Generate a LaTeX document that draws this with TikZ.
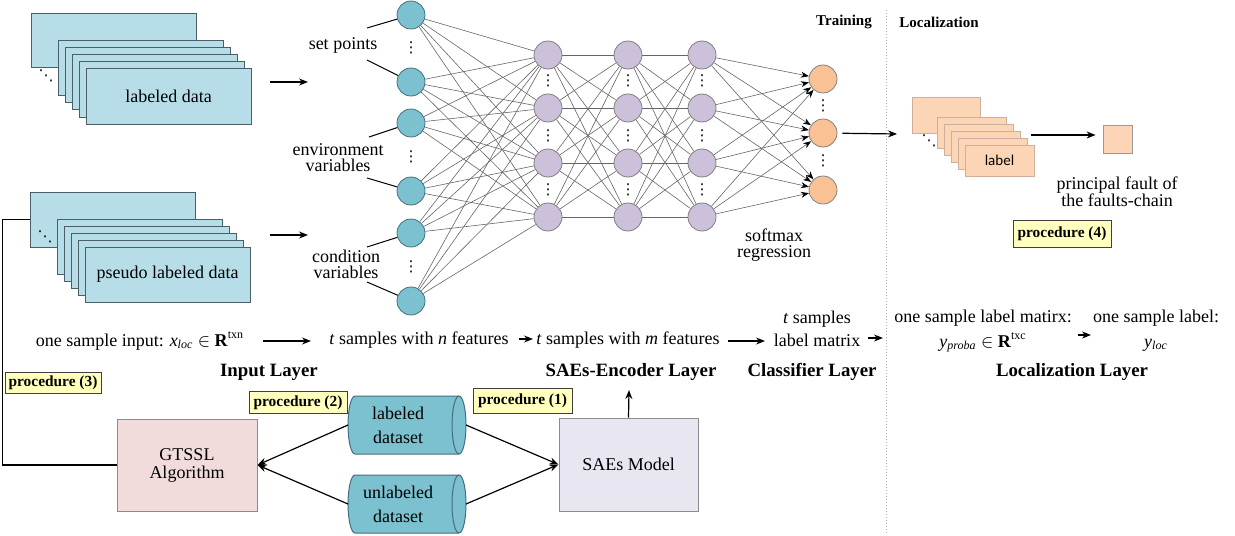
\documentclass[tikz,border=0pt]{standalone}
\usepackage{fontspec}
\setmainfont{Liberation Serif}
\newfontfamily\lblfont{Carlito}
\newfontfamily\dotfont{DejaVu Sans}
\usetikzlibrary{arrows.meta,backgrounds}
\definecolor{tealc}{RGB}{123,193,208}
\definecolor{tealdk}{RGB}{70,110,125}
\definecolor{stackc}{RGB}{183,222,232}
\definecolor{stackdk}{RGB}{75,95,105}
\definecolor{lav}{RGB}{204,192,218}
\definecolor{orng}{RGB}{249,193,148}
\definecolor{peach}{RGB}{251,213,181}
\definecolor{peachdk}{RGB}{205,175,155}
\definecolor{pinkc}{RGB}{242,220,219}
\definecolor{saec}{RGB}{232,230,241}
\definecolor{procy}{RGB}{255,255,190}
\begin{document}
\begin{tikzpicture}[x=0.5pt,y=-0.5pt,
  tx/.style={inner sep=0pt,align=center,font=\fontsize{9}{10}\selectfont},
  tight/.style={inner sep=0pt,align=center,font=\fontsize{9}{8}\selectfont},
  hdr/.style={inner sep=0pt,font=\fontsize{7.5}{9}\selectfont\bfseries},
  layer/.style={inner sep=0pt,font=\fontsize{9.4}{10}\selectfont\bfseries},
  proc/.style={draw=black!75,fill=procy,line width=0.5pt,inner sep=0pt,font=\fontsize{7.7}{9}\selectfont\bfseries},
  inn/.style={circle,draw=tealdk,fill=tealc,minimum size=14pt,inner sep=0pt,line width=0.4pt},
  hid/.style={circle,draw=black!50,fill=lav,minimum size=14pt,inner sep=0pt,line width=0.4pt},
  outn/.style={circle,draw=black!50,fill=orng,minimum size=14pt,inner sep=0pt,line width=0.4pt},
  dotsn/.style={inner sep=0pt,font=\dotfont\fontsize{7.5}{7.5}\selectfont},
  nn/.style={draw=black!60,line width=0.3pt},
  nnarr/.style={nn,-{Stealth[length=4pt,width=3pt,color=black]}},
  arr/.style={draw=black,line width=0.6pt,-{Stealth[length=4.5pt,width=3.5pt]}},
  conn/.style={draw=black,line width=0.6pt},
  lline/.style={draw=black,line width=0.5pt},
  sbox/.style={draw=stackdk,fill=stackc,line width=0.5pt},
  pbox/.style={draw=peachdk,fill=peach,line width=0.4pt},
  boxn/.style={draw=black!45,line width=0.5pt,inner sep=0pt,align=center,font=\fontsize{9}{9}\selectfont},
  cylnode/.style={inner sep=0pt,outer sep=0pt,minimum width=59pt,minimum height=29pt},
  cyltext/.style={inner sep=0pt,align=center,font=\fontsize{9}{12}\selectfont,xshift=-4.5pt},
  cylfill/.style={fill=tealc,draw=tealdk,line width=0.5pt},
  cylline/.style={draw=tealdk,line width=0.5pt},
  sepline/.style={draw=black!30,line width=0.4pt,dash pattern=on 0.5pt off 1pt}
]
\useasboundingbox (0,0) rectangle (1235,535);

% ---------- labeled data stack ----------
\node[sbox,minimum width=82.5pt,minimum height=27pt,inner sep=0pt] (ldb) at (113.5,41) {};
\foreach \k in {0,...,3}{\draw[sbox] (58+7*\k,41+7*\k) rectangle ++(165,55);}
\node[sbox,minimum width=82.5pt,minimum height=27.5pt,inner sep=0pt,font=\fontsize{9}{10}\selectfont] (ld) at (168.5,96.5) {labeled data};
\node[dotsn] (ldd) at (46,76) {⋱};

% ---------- pseudo labeled data stack ----------
\node[sbox,minimum width=82.5pt,minimum height=27.5pt,inner sep=0pt] (pdb) at (112.5,219.5) {};
\foreach \k in {0,...,3}{\draw[sbox] (57+7*\k,219+7*\k) rectangle ++(165,55);}
\node[sbox,minimum width=82.5pt,minimum height=27.5pt,inner sep=0pt,font=\fontsize{9}{10}\selectfont] (pd) at (167.5,274.5) {pseudo labeled data};
\node[dotsn] (pdd) at (45,237) {⋱};

\coordinate (ldA) at (270,82); \coordinate (ldB) at (308,82);
\draw[arr] (ldA) -- (ldB);
\coordinate (pdA) at (270,235); \coordinate (pdB) at (308,235);
\draw[arr] (pdA) -- (pdB);

% ---------- network ----------
\foreach \n/\yy in {1/15,2/82,3/123,4/191,5/233,6/301}{\node[inn] (i\n) at (411,\yy) {};}
\foreach \n/\yy in {1/55,2/108,3/163,4/217}{
  \node[hid] (a\n) at (548,\yy) {};
  \node[hid] (b\n) at (628,\yy) {};
  \node[hid] (c\n) at (702,\yy) {};}
\foreach \n/\yy in {1/79,2/133,3/190}{\node[outn] (o\n) at (823,\yy) {};}

\foreach \p in {1,...,6}{\foreach \q in {1,...,4}{\draw[nn] (i\p) -- (a\q);}}
\foreach \p in {1,...,4}{\foreach \q in {1,...,4}{\draw[nn] (a\p) -- (b\q); \draw[nn] (b\p) -- (c\q);}}
\foreach \p in {1,...,4}{\foreach \q in {1,2,3}{\draw[nnarr] (c\p) -- (o\q);}}

\foreach \n/\yy in {1/48,2/157,3/267}{\node[dotsn] (di\n) at (411,\yy) {⋮};}
\foreach \n/\yy in {1/81,2/136,3/190}{
  \node[dotsn] (da\n) at (548,\yy) {⋮};
  \node[dotsn] (db\n) at (628,\yy) {⋮};
  \node[dotsn] (dc\n) at (702,\yy) {⋮};}
\foreach \n/\yy in {1/106,2/161}{\node[dotsn] (do\n) at (823,\yy) {⋮};}

% input labels
\node[tight] (sp) at (343,45) {set points};
\node[tight] (env) at (338,158) {environment\\variables};
\node[tight] (cnd) at (346,264) {condition\\variables};
\coordinate (s1) at (367,28); \coordinate (s2) at (367,60);
\coordinate (e1) at (369,137); \coordinate (e2) at (367,178);
\coordinate (k1) at (367,247); \coordinate (k2) at (367,282);
\draw[lline] (s1) -- (i1); \draw[lline] (s2) -- (i2);
\draw[lline] (e1) -- (i3); \draw[lline] (e2) -- (i4);
\draw[lline] (k1) -- (i5); \draw[lline] (k2) -- (i6);

\node[tight] (smx) at (774,245) {softmax\\regression};

% ---------- training / localization ----------
\node[hdr] (trn) at (844,22) {Training};
\node[hdr] (lcz) at (939,22) {Localization};
\draw[sepline] (886,10) -- (886,535);

\coordinate (lsA) at (897,134);
\draw[arr,shorten <=2.5pt] (o2) -- (lsA);

\node[pbox,minimum width=34pt,minimum height=18pt,inner sep=0pt] (lbb) at (946,115) {};
\foreach \k in {0,...,3}{\draw[pbox] (937+7*\k,117+7*\k) rectangle ++(69,31);}
\node[pbox,minimum width=34.5pt,minimum height=15.5pt,inner sep=0pt,font=\lblfont\fontsize{7.5}{9}\selectfont] (lb) at (999.5,160.5) {label};
\node[dotsn] (lbd) at (929,141) {⋱};

\node[pbox,draw=black!40,minimum width=14.5pt,minimum height=14pt,inner sep=0pt] (sq) at (1117.5,139.5) {};
\coordinate (lsB) at (1031,135);
\draw[arr,shorten >=3.5pt] (lsB) -- (lsB -| sq.west);
\node[inner sep=0pt,align=center,font=\fontsize{9}{8.5}\selectfont] (pf) at (1117,191.5) {principal fault of\\the faults-chain};
\node[proc,minimum width=49pt,minimum height=13.5pt] (p4) at (1062,233.5) {procedure (4)};

% ---------- text row ----------
\node[tx] (inp) at (140,341) {one sample input: \textit{x}\textsubscript{\textit{loc}} $\in$ \textbf{R}\textsuperscript{txn}};
\node[tx] (nft) at (419,340) {\textit{t} samples with \textit{n} features};
\node[tx] (mft) at (628,340) {\textit{t} samples with \textit{m} features};
\node[inner sep=0pt,align=center,font=\fontsize{9}{11.5}\selectfont] (cls) at (817,329) {\textit{t} samples\\label matrix};
\node[inner sep=0pt,align=center,font=\fontsize{9}{12.5}\selectfont] (prb) at (983,331) {one sample label matirx:\\\textit{y}\textsubscript{\textit{proba}} $\in$ \textbf{R}\textsuperscript{txc}};
\node[inner sep=0pt,align=center,font=\fontsize{9}{12.5}\selectfont] (lab) at (1156,331) {one sample label:\\\textit{y}\textsubscript{\textit{loc}}};

\coordinate (r1a) at (263,341); \coordinate (r1b) at (311,341);
\coordinate (r2a) at (519,339); \coordinate (r2b) at (533,339);
\coordinate (r3a) at (728,341); \coordinate (r3b) at (765,341);
\coordinate (r4a) at (868,338); \coordinate (r4b) at (883,338);
\coordinate (r5a) at (1078,335); \coordinate (r5b) at (1091,335);
\draw[arr] (r1a) -- (r1b);
\draw[arr] (r2a) -- (r2b);
\draw[arr] (r3a) -- (r3b);
\draw[arr] (r4a) -- (r4b);
\draw[arr] (r5a) -- (r5b);

\node[layer] (lin) at (269,372) {Input Layer};
\node[layer] (lenc) at (631,372) {SAEs-Encoder Layer};
\node[layer] (lcls) at (812,372) {Classifier Layer};
\node[layer] (lloc) at (1072,372) {Localization Layer};

% ---------- bottom ----------
\node[proc,minimum width=48pt,minimum height=10.5pt] (p3) at (53,383) {procedure (3)};
\node[proc,minimum width=49pt,minimum height=11pt] (p2) at (298,402.5) {procedure (2)};
\node[proc,minimum width=49.5pt,minimum height=12.5pt] (p1) at (522.5,400.5) {procedure (1)};

\node[boxn,fill=pinkc,minimum width=70pt,minimum height=46pt] (gt) at (187,465) {GTSSL\\Algorithm};
\node[boxn,fill=saec,minimum width=69.5pt,minimum height=46.5pt] (sae) at (628.5,464.5) {SAEs Model};

\node[cylnode,label={[cyltext]center:{labeled\\dataset}}] (lds) at (407,425) {};
\node[cylnode,label={[cyltext]center:{unlabeled\\dataset}}] (uds) at (407,504) {};
\begin{scope}[on background layer]
\foreach \c in {lds,uds}{
  \path[cylfill] ([xshift=3.5pt]\c.north west) arc[start angle=90,end angle=270,x radius=3.5pt,y radius=14.5pt]
     -- ([xshift=-3.5pt]\c.south east) arc[start angle=270,end angle=450,x radius=3.5pt,y radius=14.5pt] -- cycle;
  \draw[cylline] ([xshift=-3.5pt]\c.south east) arc[start angle=270,end angle=90,x radius=3.5pt,y radius=14.5pt];}
\end{scope}

\draw[arr] (lds.west) -- (gt.east);
\draw[arr] (uds.west) -- (gt.east);
\draw[arr] (lds.east) -- (sae.west);
\draw[arr] (uds.east) -- (sae.west);

\coordinate (encA) at (629,390);
\draw[arr] (sae.north) -- (encA);

\draw[conn] (pdb.west) -- ++(-27,0) |- (gt.west);
\end{tikzpicture}
\end{document}
